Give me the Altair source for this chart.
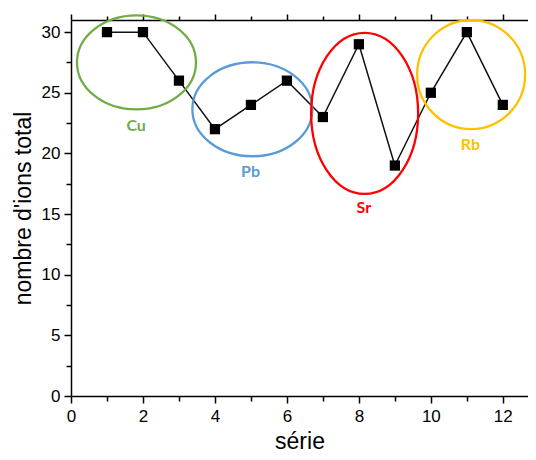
import altair as alt
import pandas as pd

# ---- data ----
serie = [1, 2, 3, 4, 5, 6, 7, 8, 9, 10, 11, 12]
ions = [30, 30, 26, 22, 24, 26, 23, 29, 19, 25, 30, 24]

groups = ["Cu", "Pb", "Sr", "Rb"]
group_colors = ["#70AD47", "#5B9BD5", "#FF0000", "#FFC000"]
ell_cx = [1.82, 5.04, 8.16, 11.12]
ell_cy = [27.5, 23.64, 23.3, 26.5]
ell_w = [119, 120, 107, 108]
ell_h = [94, 94, 161, 109]
lab_x = [1.81, 4.99, 8.14, 11.10]
lab_y = [22.3, 18.5, 15.5, 20.7]

x_major = [0, 2, 4, 6, 8, 10, 12]
x_minor = [1, 3, 5, 7, 9, 11]
y_major = [0, 5, 10, 15, 20, 25, 30]
y_minor = [2.5, 7.5, 12.5, 17.5, 22.5, 27.5]

df = pd.DataFrame({"serie": serie, "ions": ions})

XS = alt.Scale(domain=[0, 12.7], nice=False, zero=False)
YS = alt.Scale(domain=[0, 31], nice=False, zero=False)
FONT = "Liberation Sans"


def ax(**kw):
    base = dict(grid=False, domainColor="black", tickColor="black",
                domainWidth=1.5, tickWidth=1.5, labelColor="black",
                labelFont=FONT, labelFontSize=17, titleFont=FONT,
                titleFontSize=23, titleFontWeight="normal", titleColor="black",
                labelFlush=False, labelOverlap=False)
    base.update(kw)
    return alt.Axis(**base)


def hidden(xaxis, yaxis):
    return alt.Chart(df).mark_point(opacity=0).encode(
        x=alt.X("serie:Q", scale=XS, axis=xaxis),
        y=alt.Y("ions:Q", scale=YS, axis=yaxis),
    )


line = alt.Chart(df).mark_line(color="#111111", strokeWidth=1.5).encode(
    x=alt.X("serie:Q", scale=XS,
            axis=ax(orient="bottom", values=x_major, tickSize=7, labelPadding=5,
                    title="série", titlePadding=6, format="d")),
    y=alt.Y("ions:Q", scale=YS,
            axis=ax(orient="left", values=y_major, tickSize=7, labelPadding=4,
                    title="nombre d'ions total", titlePadding=6, format="d")),
)

pts = alt.Chart(df).mark_point(shape="square", filled=True, color="black",
                               size=105, opacity=1).encode(
    x=alt.X("serie:Q", scale=XS, axis=None),
    y=alt.Y("ions:Q", scale=YS, axis=None),
)

bottom_minor = hidden(ax(orient="bottom", values=x_minor, tickSize=5, labels=False,
                         domain=False, title=None), None)
left_minor = hidden(None, ax(orient="left", values=y_minor, tickSize=5, labels=False,
                             domain=False, title=None))
top_major = hidden(ax(orient="top", values=x_major, tickSize=6, labels=False,
                      domain=True, title=None), None)
top_minor = hidden(ax(orient="top", values=x_minor, tickSize=4, labels=False,
                      domain=False, title=None), None)


def ellipse_path(w, h):
    m = max(w, h)
    rx, ry = w / m, h / m
    k = 0.5523
    f = lambda v: f"{v:.4f}"
    return (f"M{f(rx)},0 C{f(rx)},{f(k*ry)} {f(k*rx)},{f(ry)} 0,{f(ry)} "
            f"C{f(-k*rx)},{f(ry)} {f(-rx)},{f(k*ry)} {f(-rx)},0 "
            f"C{f(-rx)},{f(-k*ry)} {f(-k*rx)},{f(-ry)} 0,{f(-ry)} "
            f"C{f(k*rx)},{f(-ry)} {f(rx)},{f(-k*ry)} {f(rx)},0 Z")


ellipses = []
labels = []
for g, c, cx, cy, w, h, lx, ly in zip(groups, group_colors, ell_cx, ell_cy,
                                      ell_w, ell_h, lab_x, lab_y):
    d = pd.DataFrame({"x": [cx], "y": [cy], "lx": [lx], "ly": [ly], "g": [g]})
    ellipses.append(
        alt.Chart(d).mark_point(shape=ellipse_path(w, h), size=max(w, h) ** 2,
                                filled=False, stroke=c, strokeWidth=2.3,
                                opacity=1).encode(
            x=alt.X("x:Q", scale=XS, axis=None),
            y=alt.Y("y:Q", scale=YS, axis=None),
        )
    )
    labels.append(
        alt.Chart(d).mark_text(font="Lato", fontSize=16, fontWeight="bold",
                               color=c, baseline="middle", align="center").encode(
            x=alt.X("lx:Q", scale=XS, axis=None),
            y=alt.Y("ly:Q", scale=YS, axis=None),
            text="g:N",
        )
    )

chart = alt.layer(
    line, pts, bottom_minor, left_minor, top_major, top_minor, *ellipses, *labels
).resolve_axis(x="independent", y="independent").properties(
    width=457, height=376,
    autosize=alt.AutoSizeParams(type="none"),
    padding={"left": 63, "top": 12, "right": 0, "bottom": 56},
    background="white",
).configure_view(stroke=None)

chart.save("out.html", embed_options={"renderer": "svg", "actions": False})
